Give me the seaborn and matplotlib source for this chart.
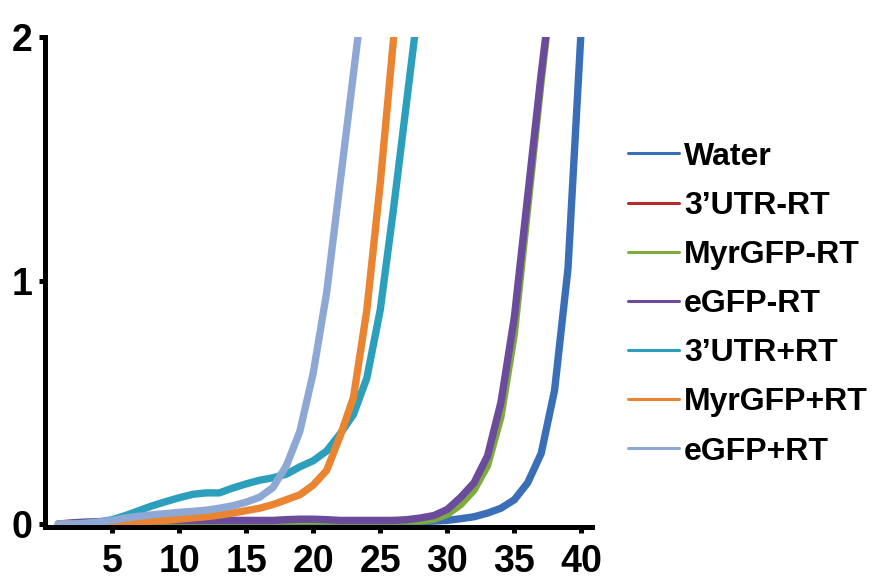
import pandas as pd
import matplotlib.pyplot as plt
import seaborn as sns

# Datos (ciclos de qPCR, fluorescencia normalizada)
cycles = list(range(1, 41))

water = [0.00, 0.00, 0.005, 0.005, 0.008, 0.01, 0.01, 0.01, 0.01, 0.01,
         0.01, 0.01, 0.01, 0.01, 0.01, 0.01, 0.01, 0.01, 0.01, 0.01,
         0.01, 0.01, 0.01, 0.01, 0.01, 0.01, 0.01, 0.01, 0.012, 0.015,
         0.022, 0.03, 0.045, 0.065, 0.10, 0.17, 0.29, 0.55, 1.05, 2.05]
# 3'UTR-RT queda oculta bajo el eje
utr_minus = [-0.02] * 40
myr_minus = [0.00, 0.00, 0.005, 0.008, 0.01, 0.012, 0.012, 0.012, 0.012, 0.012,
             0.012, 0.012, 0.012, 0.012, 0.012, 0.012, 0.012, 0.012, 0.012, 0.012,
             0.012, 0.012, 0.012, 0.012, 0.012, 0.012, 0.012, 0.012, 0.02, 0.04,
             0.08, 0.14, 0.24, 0.44, 0.78, 1.30, 1.82, 2.30, 2.75, 3.10]
egfp_minus = [0.00, 0.005, 0.008, 0.01, 0.012, 0.015, 0.015, 0.015, 0.015, 0.015,
              0.015, 0.015, 0.015, 0.015, 0.015, 0.015, 0.015, 0.018, 0.02, 0.02,
              0.018, 0.015, 0.015, 0.015, 0.015, 0.015, 0.018, 0.025, 0.035, 0.06,
              0.11, 0.17, 0.28, 0.50, 0.85, 1.35, 1.85, 2.30, 2.70, 3.00]
utr_plus = [0.00, 0.00, 0.002, 0.008, 0.018, 0.035, 0.055, 0.075, 0.092, 0.108,
            0.122, 0.128, 0.128, 0.148, 0.165, 0.18, 0.19, 0.205, 0.235, 0.26,
            0.30, 0.37, 0.45, 0.60, 0.88, 1.30, 1.75, 2.20, 2.60, 2.90,
            3.10, 3.20, 3.30, 3.35, 3.40, 3.45, 3.50, 3.50, 3.55, 3.55]
myr_plus = [0.00, 0.00, 0.00, 0.00, 0.00, 0.005, 0.01, 0.012, 0.015, 0.02,
            0.025, 0.03, 0.037, 0.045, 0.055, 0.065, 0.08, 0.10, 0.12, 0.16,
            0.22, 0.36, 0.52, 0.88, 1.40, 2.00, 2.50, 2.85, 3.10, 3.25,
            3.35, 3.40, 3.45, 3.50, 3.50, 3.55, 3.55, 3.60, 3.60, 3.60]
egfp_plus = [0.00, 0.00, 0.003, 0.008, 0.015, 0.025, 0.032, 0.038, 0.043, 0.048,
             0.052, 0.057, 0.065, 0.075, 0.09, 0.11, 0.15, 0.24, 0.38, 0.62,
             0.95, 1.40, 1.85, 2.30, 2.70, 3.00, 3.20, 3.30, 3.40, 3.45,
             3.50, 3.55, 3.55, 3.60, 3.60, 3.60, 3.65, 3.65, 3.65, 3.65]

labels = ['Water', '3\u2019UTR-RT', 'MyrGFP-RT', 'eGFP-RT',
          '3\u2019UTR+RT', 'MyrGFP+RT', 'eGFP+RT']
colores = ['#3a6fb7', '#b52a2a', '#7dab3d', '#6b4b9c',
           '#2b9fbb', '#eb8430', '#8ea8d6']
series = [water, utr_minus, myr_minus, egfp_minus, utr_plus, myr_plus, egfp_plus]

df = pd.DataFrame({
    'cycle': cycles * len(series),
    'value': [v for s in series for v in s],
    'sample': [lab for lab, s in zip(labels, series) for _ in s],
})

# orden de dibujo: la roja primero (debajo de todo)
draw_order = [labels[1], labels[0]] + labels[2:]

sns.set_style('ticks')
plt.rcParams['font.family'] = ['Liberation Sans Narrow', 'Liberation Sans', 'DejaVu Sans']
plt.rcParams['font.weight'] = 'bold'
plt.rcParams['text.color'] = 'black'
plt.rcParams['xtick.color'] = 'black'
plt.rcParams['ytick.color'] = 'black'

fig = plt.figure(figsize=(8.74, 5.81), dpi=100)
ax = fig.add_axes([0.0515, 0.093, 0.626, 0.843])

sns.lineplot(data=df, x='cycle', y='value', hue='sample', hue_order=draw_order,
             palette=dict(zip(labels, colores)), linewidth=5.3, ax=ax, legend=False)

ax.set_xlim(0, 40.8)
ax.set_ylim(-0.012, 2.0)
ax.set_xticks([5, 10, 15, 20, 25, 30, 35, 40])
ax.set_yticks([0, 1, 2])
ax.set_xlabel('')
ax.set_ylabel('')

for side in ['top', 'right']:
    ax.spines[side].set_visible(False)
for side in ['left', 'bottom']:
    ax.spines[side].set_linewidth(3.6)
    ax.spines[side].set_color('black')

ax.tick_params(axis='both', length=4, width=3.6, color='black', labelcolor='black', labelsize=27)
ax.tick_params(axis='x', pad=8)
ax.tick_params(axis='y', pad=5)
for lbl in ax.get_xticklabels() + ax.get_yticklabels():
    lbl.set_fontweight('bold')

handles = [plt.Line2D([], [], color=c, linewidth=2.2) for c in colores]
leg = ax.legend(handles, labels, loc='center left', bbox_to_anchor=(1.066, 0.455),
                frameon=False, fontsize=23, handlelength=1.6, handletextpad=0.15,
                labelspacing=0.6, borderpad=0, borderaxespad=0)
for t in leg.get_texts():
    t.set_fontweight('bold')
    t.set_color('black')

fig.savefig('out.png', dpi=100)
